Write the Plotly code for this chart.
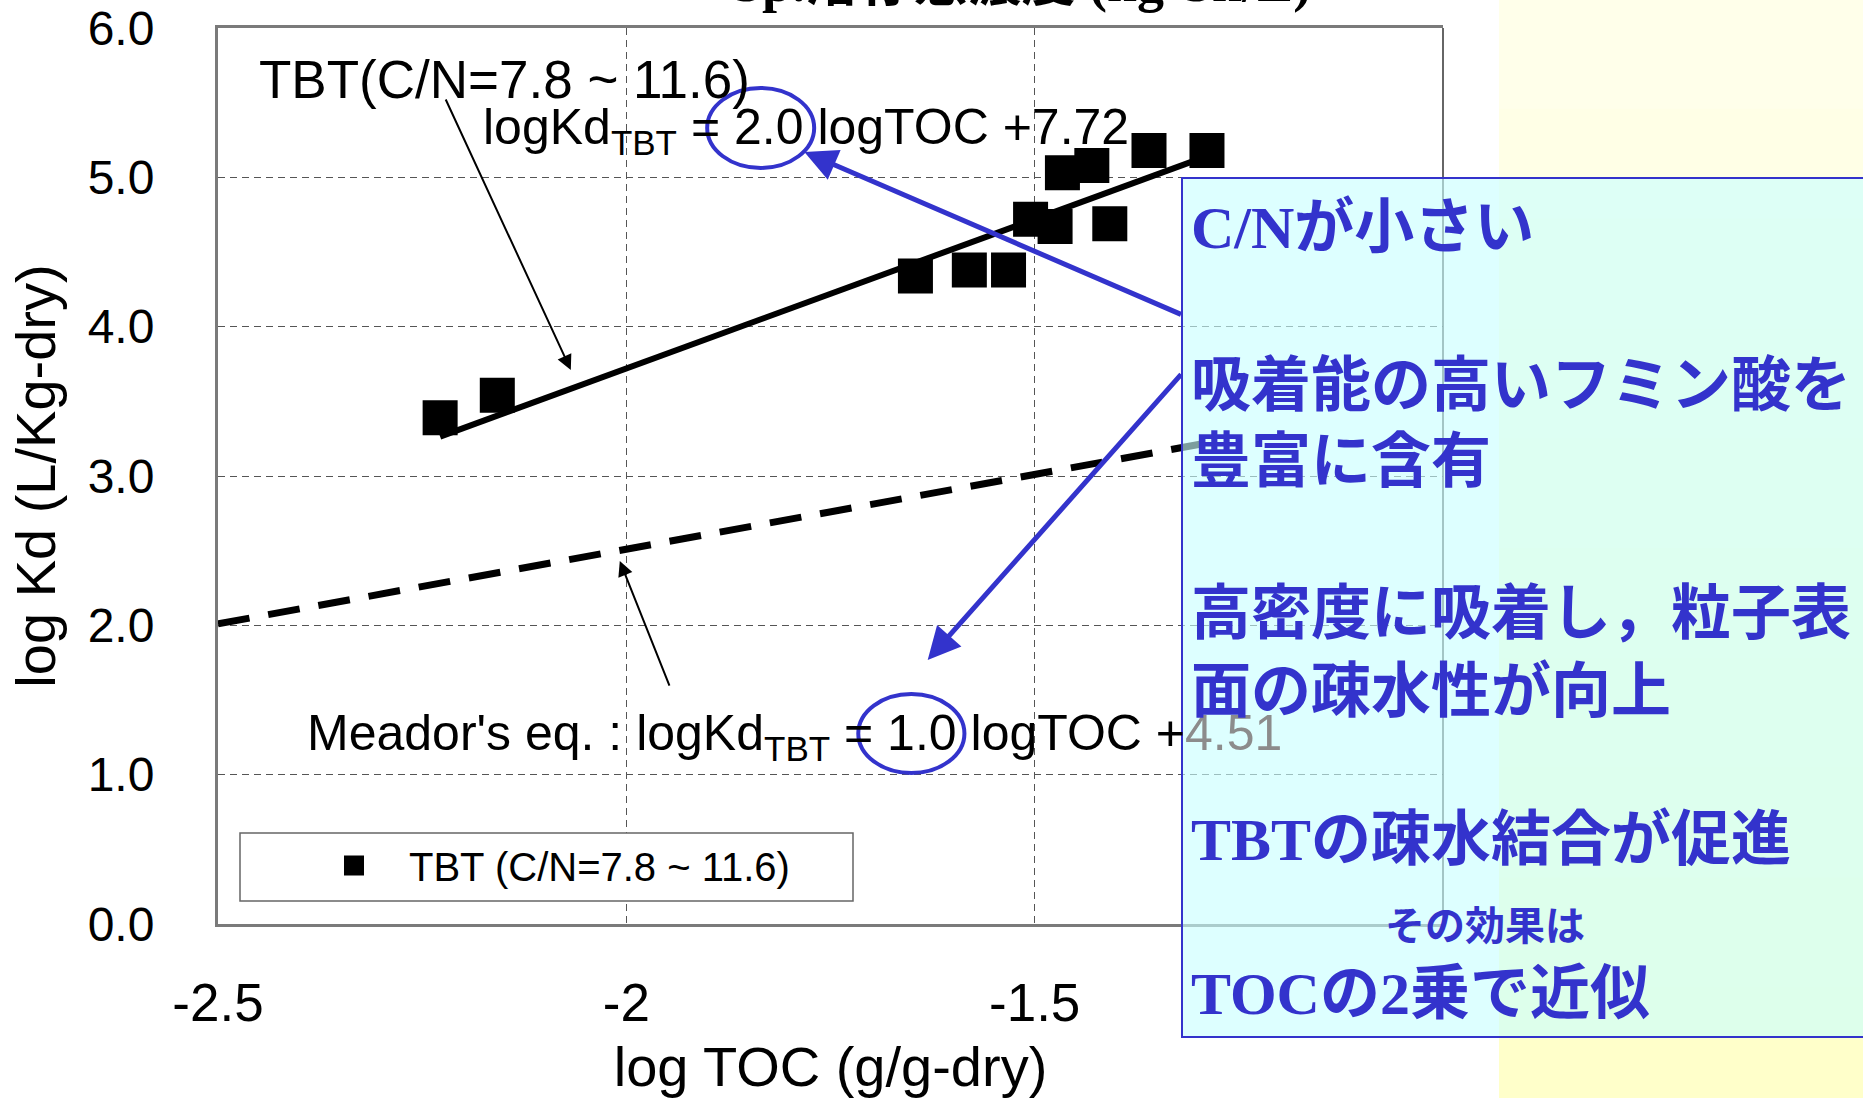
import plotly.graph_objects as go

# TBT sorption onto sediment: log TOC (g/g-dry) vs log Kd (L/Kg-dry)
series_name = "TBT (C/N=7.8 ~ 11.6)"
log_toc = [-2.228, -2.158, -1.646, -1.580, -1.532, -1.505,
           -1.475, -1.466, -1.430, -1.408, -1.360, -1.289]
log_kd = [3.39, 3.54, 4.34, 4.38, 4.38, 4.72,
          4.67, 5.03, 5.08, 4.69, 5.18, 5.18]

# logKd = slope * logTOC + intercept
tbt_slope, tbt_intercept = 2.0, 7.72
meador_slope, meador_intercept = 1.0, 4.51

x_range = [-2.5, -1.0]
y_range = [0.0, 6.0]
x_ticks = [-2.5, -2.0, -1.5]
x_tick_labels = ["-2.5", "-2", "-1.5"]
y_ticks = [0, 1, 2, 3, 4, 5, 6]
y_tick_labels = ["0.0", "1.0", "2.0", "3.0", "4.0", "5.0", "6.0"]

# page geometry (pixels)
W, H = 1863, 1098
M_L, M_R, M_T, M_B = 218, 420, 28, 174
PLOT_W = W - M_L - M_R
PLOT_H = H - M_T - M_B


def paper_x(px):
    return (px - M_L) / PLOT_W


def paper_y(py):
    return (H - M_B - py) / PLOT_H


SANS = "Liberation Sans, Arial, sans-serif"
JP_BOLD = "Liberation Serif, Noto Sans CJK JP, serif"
BLUE = "#3333CC"

fig = go.Figure()

# Meador's equation (dashed) and the TBT regression line
meador_x = [x_range[0], max(log_toc)]
meador_y = [meador_slope * x + meador_intercept for x in meador_x]
fig.add_trace(go.Scatter(
    x=meador_x, y=meador_y, mode="lines", showlegend=False, hoverinfo="skip",
    line=dict(color="black", width=7, dash="32px,19px"),
))

fit_x = [min(log_toc), max(log_toc)]
fit_y = [tbt_slope * x + tbt_intercept for x in fit_x]
fig.add_trace(go.Scatter(
    x=fit_x, y=fit_y, mode="lines", showlegend=False, hoverinfo="skip",
    line=dict(color="black", width=6),
))

fig.add_trace(go.Scatter(
    x=log_toc, y=log_kd, mode="markers", name=series_name,
    marker=dict(symbol="square", size=31, color="black",
                line=dict(color="black", width=4)),
))

shapes = []

# pale yellow slide background on the right (vertical gradient in bands)
n_bands = 10
top_rgb, bottom_rgb = (255, 255, 234), (255, 255, 202)
for i in range(n_bands):
    t = i / (n_bands - 1)
    col = tuple(round(a + (b - a) * t) for a, b in zip(top_rgb, bottom_rgb))
    shapes.append(dict(
        type="rect", xref="paper", yref="paper", layer="below",
        x0=paper_x(1499), x1=paper_x(1900),
        y0=paper_y(H * (i + 1) / n_bands + 1), y1=paper_y(H * i / n_bands - 1),
        line=dict(width=0), fillcolor="rgb(%d,%d,%d)" % col,
    ))

# right-hand frame edge
shapes.append(dict(
    type="line", xref="x domain", yref="y domain", x0=1, x1=1, y0=0, y1=1,
    line=dict(color="#333333", width=1.5), layer="above",
))

# legend frame
shapes.append(dict(
    type="rect", xref="paper", yref="paper", layer="above",
    x0=paper_x(240), x1=paper_x(853), y0=paper_y(901), y1=paper_y(833),
    line=dict(color="#666666", width=1.5), fillcolor="white",
))

# circles around the two slopes
shapes.append(dict(
    type="circle", xref="x", yref="y", layer="above",
    x0=-1.901, x1=-1.770, y0=5.063, y1=5.598,
    line=dict(color=BLUE, width=4), fillcolor="rgba(0,0,0,0)",
))
shapes.append(dict(
    type="circle", xref="x", yref="y", layer="above",
    x0=-1.716, x1=-1.586, y0=1.011, y1=1.540,
    line=dict(color=BLUE, width=4), fillcolor="rgba(0,0,0,0)",
))

# explanation panel
shapes.append(dict(
    type="rect", xref="paper", yref="paper", layer="above",
    x0=paper_x(1182), x1=paper_x(1900), y0=paper_y(1037), y1=paper_y(178),
    line=dict(color=BLUE, width=2), fillcolor="rgba(200,255,255,0.62)",
))

annotations = []

# heading of the neighbouring panel, cut by the page top
annotations.append(dict(
    xref="paper", yref="paper", x=paper_x(1021), y=paper_y(-17),
    xanchor="center", yanchor="middle", showarrow=False,
    text="Sp.溶存態濃度 (ng-Sn/L)",
    font=dict(family=JP_BOLD, size=54, color="black", weight="bold"),
))

# series label and equations
annotations.append(dict(
    xref="x", yref="y", x=-2.452, y=5.654, xanchor="left", yanchor="middle",
    showarrow=False, text="TBT(C/N=7.8 ~ 11.6)",
    font=dict(family=SANS, size=53, color="black"),
))
annotations.append(dict(
    xref="x", yref="y", x=-2.178, y=5.315, xanchor="left", yanchor="middle",
    showarrow=False,
    text="logKd<sub>TBT</sub> = %.1f logTOC +%.2f" % (tbt_slope, tbt_intercept),
    font=dict(family=SANS, size=50, color="black"),
))
annotations.append(dict(
    xref="x", yref="y", x=-2.3935, y=1.257, xanchor="left", yanchor="middle",
    showarrow=False,
    text=("Meador's eq. : logKd<sub>TBT</sub> = %.1f logTOC +"
          "<span style='color:#8c8c8c'>%.2f</span>") % (meador_slope, meador_intercept),
    font=dict(family=SANS, size=50, color="black"),
))

# thin pointers from labels to lines
annotations.append(dict(
    xref="x", yref="y", axref="x", ayref="y",
    x=-2.068, y=3.710, ax=-2.222, ay=5.531, text="", showarrow=True,
    arrowhead=2, arrowsize=1.5, arrowwidth=2, arrowcolor="black",
    standoff=0, startstandoff=0,
))
annotations.append(dict(
    xref="x", yref="y", axref="x", ayref="y",
    x=-2.008, y=2.431, ax=-1.9465, ay=1.587, text="", showarrow=True,
    arrowhead=2, arrowsize=1.5, arrowwidth=2, arrowcolor="black",
    standoff=0, startstandoff=0,
))

# blue arrows from the panel to the slopes
annotations.append(dict(
    xref="x", yref="y", axref="x", ayref="y",
    x=-1.782, y=5.170, ax=-1.319, ay=4.078, text="", showarrow=True,
    arrowhead=2, arrowsize=1.3, arrowwidth=5, arrowcolor=BLUE,
    standoff=0, startstandoff=0,
))
annotations.append(dict(
    xref="x", yref="y", axref="x", ayref="y",
    x=-1.631, y=1.768, ax=-1.319, ay=3.690, text="", showarrow=True,
    arrowhead=2, arrowsize=1.3, arrowwidth=5, arrowcolor=BLUE,
    standoff=0, startstandoff=0,
))

# panel text
panel_lines = [
    ("C/Nが小さい", 228),
    ("吸着能の高いフミン酸を", 386),
    ("豊富に含有", 462),
    ("高密度に吸着し，粒子表", 614),
    ("面の疎水性が向上", 692),
    ("TBTの疎水結合が促進", 840),
    ("TOCの2乗で近似", 994),
]
for text, cy in panel_lines:
    annotations.append(dict(
        xref="paper", yref="paper", x=paper_x(1189), y=paper_y(cy),
        xanchor="left", yanchor="middle", showarrow=False, text=text,
        font=dict(family=JP_BOLD, size=60, color=BLUE, weight="bold"),
    ))
annotations.append(dict(
    xref="paper", yref="paper", x=paper_x(1485), y=paper_y(926),
    xanchor="center", yanchor="middle", showarrow=False, text="その効果は",
    font=dict(family=JP_BOLD, size=40, color=BLUE, weight="bold"),
))

fig.update_layout(
    width=W, height=H, autosize=False,
    margin=dict(l=M_L, r=M_R, t=M_T, b=M_B, pad=0),
    paper_bgcolor="white", plot_bgcolor="white",
    font=dict(family=SANS, color="black"),
    showlegend=True,
    legend=dict(
        x=paper_x(299), y=paper_y(833), xanchor="left", yanchor="top",
        bgcolor="rgba(0,0,0,0)", borderwidth=0, itemwidth=100,
        font=dict(family=SANS, size=40, color="black"),
    ),
    shapes=shapes,
    annotations=annotations,
    xaxis=dict(
        range=x_range, tickvals=x_ticks, ticktext=x_tick_labels,
        tickfont=dict(family=SANS, size=53, color="black"),
        ticks="outside", ticklen=30, tickcolor="rgba(0,0,0,0)",
        showgrid=True, gridcolor="#555555", gridwidth=1, griddash="7px,5px",
        zeroline=False, showline=True, linecolor="#7a7a7a", linewidth=3, mirror=True,
        title=dict(text="log TOC (g/g-dry)", standoff=24,
                   font=dict(family=SANS, size=56, color="black")),
        automargin=False,
    ),
    yaxis=dict(
        range=y_range, tickvals=y_ticks, ticktext=y_tick_labels,
        tickfont=dict(family=SANS, size=48, color="black"),
        ticks="outside", ticklen=51, tickcolor="rgba(0,0,0,0)",
        showgrid=True, gridcolor="#555555", gridwidth=1, griddash="7px,5px",
        zeroline=False, showline=True, linecolor="#7a7a7a", linewidth=3, mirror=False,
        title=dict(text="log Kd (L/Kg-dry)", standoff=15,
                   font=dict(family=SANS, size=56, color="black")),
        automargin=False,
    ),
)

fig.write_html("out.html")
